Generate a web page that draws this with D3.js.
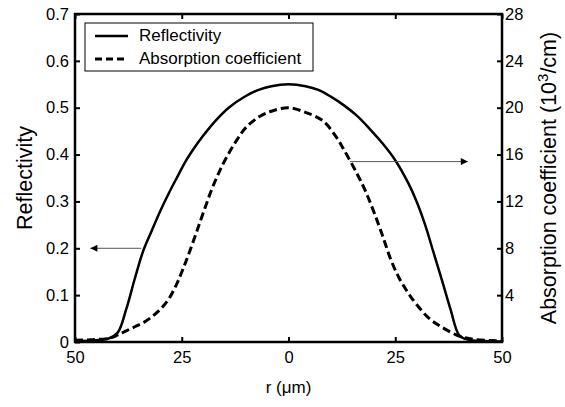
<!DOCTYPE html>
<html>
<head>
<meta charset="utf-8">
<script src="https://cdn.jsdelivr.net/npm/d3@7"></script>
<style>
body { margin: 0; background: #fff; }
text { font-family: "Liberation Sans", Arial, sans-serif; fill: #000; }
</style>
</head>
<body>
<div class="canva"></div>
<script>
// daten, aus dem bild gelesen
const rRefl = [-50, -46, -42, -40, -38, -36, -34, -32, -30, -28, -26, -24, -22, -20, -17, -14, -10, -7, -4, 0,
  4, 7, 10, 13, 16, 19, 22, 25, 28, 30, 32, 34, 36, 38, 40, 42, 46, 50];
const refl = [0.002, 0.003, 0.008, 0.02, 0.07, 0.135, 0.195, 0.238, 0.28, 0.318, 0.353, 0.387, 0.415, 0.44, 0.473, 0.5, 0.525, 0.538, 0.546, 0.55,
  0.546, 0.538, 0.523, 0.505, 0.483, 0.455, 0.424, 0.388, 0.34, 0.30, 0.25, 0.19, 0.13, 0.068, 0.014, 0.005, 0.002, 0.001];

const rAbs = [-50, -46, -42, -40, -38, -36, -34, -32, -30, -28, -26, -24, -22, -20, -18, -16, -14, -12, -10, -7, -4, 0,
  4, 8, 11, 13, 16, 18, 20, 22, 24, 26, 28, 30, 33, 36, 40, 43, 47, 50];
const absorp = [0.15, 0.2, 0.32, 0.6, 0.95, 1.3, 1.65, 2.15, 2.8, 3.7, 5.1, 6.9, 8.9, 11.0, 13.0, 14.7, 16.1, 17.3, 18.3, 19.2, 19.7, 20.0,
  19.6, 18.9, 17.6, 16.4, 14.4, 12.9, 11.1, 9.1, 7.0, 5.4, 4.2, 3.2, 2.0, 1.25, 0.5, 0.25, 0.12, 0.1];

const xTicks = [-50, -25, 0, 25, 50];
const yTicksLeft = [0, 0.1, 0.2, 0.3, 0.4, 0.5, 0.6, 0.7];
const yTicksRight = [4, 8, 12, 16, 20, 24, 28];

const legendNames = ['Reflectivity', 'Absorption coefficient'];

const W = 565, H = 407;
const m = {left: 75, right: 502, top: 14, bottom: 342};
const fam = '"Liberation Sans", Arial, sans-serif';

const svg = d3.select('.canva').append('svg')
  .attr('width', W)
  .attr('height', H);

const x = d3.scaleLinear().domain([-50, 50]).range([m.left, m.right]);
const yL = d3.scaleLinear().domain([0, 0.7]).range([m.bottom, m.top]);
const yR = d3.scaleLinear().domain([0, 28]).range([m.bottom, m.top]);

// achsen, ticks nach innen
svg.append('g')
  .attr('transform', 'translate(0,' + m.bottom + ')')
  .call(d3.axisBottom(x).tickValues(xTicks).tickSize(-5).tickSizeOuter(0).tickPadding(9)
    .tickFormat(d => Math.abs(d)))
  .call(g => g.select('.domain').remove())
  .call(g => g.selectAll('text').attr('font-size', 16.5).attr('font-family', fam));

svg.append('g')
  .attr('transform', 'translate(0,' + m.top + ')')
  .call(d3.axisTop(x).tickValues(xTicks).tickSize(-5).tickSizeOuter(0).tickFormat(''))
  .call(g => g.select('.domain').remove());

svg.append('g')
  .attr('transform', 'translate(' + m.left + ',0)')
  .call(d3.axisLeft(yL).tickValues(yTicksLeft).tickSize(-5).tickSizeOuter(0).tickPadding(6)
    .tickFormat(d => d === 0 ? '0' : d3.format('.1f')(d)))
  .call(g => g.select('.domain').remove())
  .call(g => g.selectAll('text').attr('font-size', 16.5).attr('font-family', fam));

svg.append('g')
  .attr('transform', 'translate(' + m.right + ',0)')
  .call(d3.axisRight(yR).tickValues(yTicksRight).tickSize(-5).tickSizeOuter(0).tickPadding(3))
  .call(g => g.select('.domain').remove())
  .call(g => g.selectAll('text').attr('font-size', 16.5).attr('font-family', fam));

svg.selectAll('.tick line').attr('stroke', '#000').attr('stroke-width', 2);

// rahmen
svg.append('rect')
  .attr('x', m.left)
  .attr('y', m.top)
  .attr('width', m.right - m.left)
  .attr('height', m.bottom - m.top)
  .attr('fill', 'none')
  .attr('stroke', '#000')
  .attr('stroke-width', 2.5);

// kurven
const lineRefl = d3.line()
  .x((d, i) => x(rRefl[i]))
  .y(d => yL(d))
  .curve(d3.curveCatmullRom.alpha(0.5));

const lineAbs = d3.line()
  .x((d, i) => x(rAbs[i]))
  .y(d => yR(d))
  .curve(d3.curveCatmullRom.alpha(0.5));

svg.append('path')
  .attr('d', lineAbs(absorp))
  .attr('fill', 'none')
  .attr('stroke', '#000')
  .attr('stroke-width', 3)
  .attr('stroke-dasharray', '8,4');

svg.append('path')
  .attr('d', lineRefl(refl))
  .attr('fill', 'none')
  .attr('stroke', '#000')
  .attr('stroke-width', 2.5);

// pfeile
svg.append('defs').append('marker')
  .attr('id', 'head')
  .attr('viewBox', '0 0 10 10')
  .attr('refX', 10).attr('refY', 5)
  .attr('markerWidth', 11).attr('markerHeight', 7)
  .attr('markerUnits', 'userSpaceOnUse')
  .attr('orient', 'auto')
  .append('path')
  .attr('d', 'M0,0 L10,5 L0,10 Z')
  .attr('fill', '#000');

svg.append('line')
  .attr('x1', x(-34.5)).attr('x2', x(-46.4))
  .attr('y1', yL(0.2)).attr('y2', yL(0.2))
  .attr('stroke', '#555').attr('stroke-width', 1)
  .attr('marker-end', 'url(#head)');

svg.append('line')
  .attr('x1', x(14.4)).attr('x2', x(42))
  .attr('y1', yR(15.4)).attr('y2', yR(15.4))
  .attr('stroke', '#555').attr('stroke-width', 1)
  .attr('marker-end', 'url(#head)');

// legende
const leg = svg.append('g');
leg.append('rect')
  .attr('x', 85).attr('y', 23)
  .attr('width', 228).attr('height', 48)
  .attr('fill', '#fff')
  .attr('stroke', '#000')
  .attr('stroke-width', 1);

leg.selectAll('line.leg')
  .data(legendNames)
  .enter()
  .append('line')
  .attr('class', 'leg')
  .attr('x1', 95).attr('x2', 128)
  .attr('y1', (d, i) => 36 + i * 23)
  .attr('y2', (d, i) => 36 + i * 23)
  .attr('stroke', '#000')
  .attr('stroke-width', (d, i) => i === 0 ? 2.5 : 3)
  .attr('stroke-dasharray', (d, i) => i === 0 ? null : '7,4');

leg.selectAll('text')
  .data(legendNames)
  .enter()
  .append('text')
  .attr('x', 139)
  .attr('y', (d, i) => 41 + i * 23)
  .attr('font-size', 17)
  .text(d => d);

// achsentitel
svg.append('text')
  .attr('transform', 'translate(32,' + ((m.top + m.bottom) / 2) + ') rotate(-90)')
  .attr('text-anchor', 'middle')
  .attr('font-size', 21.5)
  .text('Reflectivity');

const rt = svg.append('text')
  .attr('transform', 'translate(556,' + ((m.top + m.bottom) / 2) + ') rotate(-90)')
  .attr('text-anchor', 'middle')
  .attr('font-size', 21.5);
rt.append('tspan').text('Absorption coefficient (10');
rt.append('tspan').attr('dy', -8).attr('font-size', 15).text('3');
rt.append('tspan').attr('dy', 8).text('/cm)');

svg.append('text')
  .attr('x', x(0))
  .attr('y', 393)
  .attr('text-anchor', 'middle')
  .attr('font-size', 17)
  .text('r (\u03bcm)');
</script>
</body>
</html>
